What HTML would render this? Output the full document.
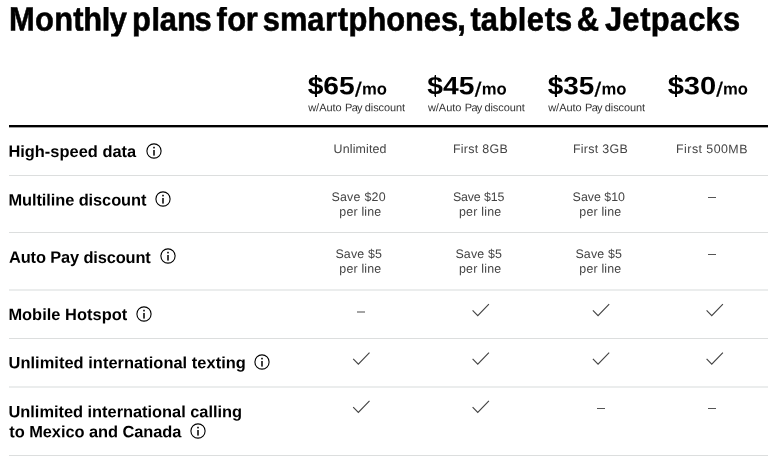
<!DOCTYPE html>
<html><head><meta charset="utf-8"><title>Monthly plans</title>
<style>
html,body{margin:0;padding:0;background:#fff;}
body{width:768px;height:468px;overflow:hidden;position:relative;font-family:"Liberation Sans",sans-serif;color:#000;}
.t{position:absolute;left:0;top:0;white-space:nowrap;margin:0;transform-origin:0 0;line-height:0;font-weight:normal;}
svg{position:absolute;overflow:visible;font-family:"Liberation Sans",sans-serif;}
svg.ov{left:0;top:0;width:768px;height:468px;pointer-events:none;}
h1{position:absolute;left:0;top:0;margin:0;width:768px;height:40px;font-size:32px;line-height:0;clip-path:inset(7.1px 0 3.6px 0);}
.h{font-weight:bold;font-size:32px;stroke:#000;stroke-width:0.55px;}
.num{font-weight:bold;font-size:25.2px;}
.sl{font-weight:normal;font-size:20.4px;stroke:#000;stroke-width:0.25px;}
.mo{font-weight:bold;font-size:16.6px;}
.sub{font-size:11px;fill:#333;}
.hl{position:absolute;left:9px;right:0;height:1px;background:#dcdede;}
.lab{font-weight:bold;font-size:16.4px;}
.c{font-size:12.4px;color:#444;}
.dash{position:absolute;width:8px;height:1px;background:#555;}
.bar{position:absolute;top:75.2px;width:1.9px;height:22.2px;background:#000;}
</style></head><body>
<h1><svg class="ov" style="height:40px"><text class="h" transform="translate(0,30.60) scale(0.9650,1.0500) rotate(0.03)" x="9.23 36.15 56.19 75.96 86.23 105.41 113.81 131.50 136.76 156.96 165.43 183.47 201.65 218.24 224.48 235.63 254.78 266.94 272.28 290.09 318.44 336.90 350.02 361.11 380.79 400.29 419.66 439.19 457.12 473.93 481.14 487.49 498.28 516.76 536.57 545.79 564.51 575.13 591.71 597.58 620.00 627.02 644.94 663.50 674.45 694.32 713.11 731.14 749.30" y="-0.00 -0.02 -0.03 -0.04 -0.05 -0.06 -0.06 0.00 -0.07 -0.08 -0.09 -0.10 -0.11 0.00 -0.12 -0.12 -0.13 0.00 -0.14 -0.15 -0.17 -0.18 -0.18 -0.19 -0.20 -0.21 -0.22 -0.23 -0.24 -0.25 0.00 -0.26 -0.26 -0.27 -0.28 -0.29 -0.30 -0.30 0.00 -0.31 0.00 -0.33 -0.34 -0.35 -0.35 -0.36 -0.37 -0.38 -0.39">Monthly plans for smartphones, tablets &amp; Jetpacks</text></svg></h1>
<svg class="ov"><text transform="translate(0,94.35) rotate(0.03)"><tspan class="num" x="307.68" y="-0.16" textLength="47.07" lengthAdjust="spacingAndGlyphs">$65</tspan><tspan class="sl" x="355.05" y="1.91" textLength="6.61" lengthAdjust="spacingAndGlyphs">/</tspan><tspan class="mo" x="362.07" y="-0.04" textLength="24.98" lengthAdjust="spacingAndGlyphs">mo</tspan></text></svg><div class="bar" style="left:314.80px"></div>
<svg class="ov"><text transform="translate(0,94.35) rotate(0.03)"><tspan class="num" x="427.38" y="-0.22" textLength="47.12" lengthAdjust="spacingAndGlyphs">$45</tspan><tspan class="sl" x="474.75" y="1.85" textLength="6.61" lengthAdjust="spacingAndGlyphs">/</tspan><tspan class="mo" x="481.77" y="-0.10" textLength="24.98" lengthAdjust="spacingAndGlyphs">mo</tspan></text></svg><div class="bar" style="left:434.50px"></div>
<svg class="ov"><text transform="translate(0,94.35) rotate(0.03)"><tspan class="num" x="547.68" y="-0.29" textLength="46.56" lengthAdjust="spacingAndGlyphs">$35</tspan><tspan class="sl" x="594.55" y="1.79" textLength="6.61" lengthAdjust="spacingAndGlyphs">/</tspan><tspan class="mo" x="601.47" y="-0.16" textLength="24.98" lengthAdjust="spacingAndGlyphs">mo</tspan></text></svg><div class="bar" style="left:554.80px"></div>
<svg class="ov"><text transform="translate(0,94.35) rotate(0.03)"><tspan class="num" x="667.67" y="-0.35" textLength="48.54" lengthAdjust="spacingAndGlyphs">$30</tspan><tspan class="sl" x="716.25" y="1.72" textLength="6.61" lengthAdjust="spacingAndGlyphs">/</tspan><tspan class="mo" x="722.97" y="-0.23" textLength="24.98" lengthAdjust="spacingAndGlyphs">mo</tspan></text></svg><div class="bar" style="left:674.80px"></div>
<svg class="ov"><text class="sub" transform="translate(0,111.20) rotate(0.03)"><tspan x="308.20" y="-0.16" letter-spacing="-0.025">w/Auto</tspan> <tspan x="345.12" y="-0.18" letter-spacing="-0.750">Pay</tspan> <tspan x="364.80" y="-0.19" letter-spacing="-0.096">discount</tspan></text></svg>
<svg class="ov"><text class="sub" transform="translate(0,111.20) rotate(0.03)"><tspan x="427.90" y="-0.22" letter-spacing="-0.025">w/Auto</tspan> <tspan x="464.82" y="-0.24" letter-spacing="-0.750">Pay</tspan> <tspan x="484.50" y="-0.25" letter-spacing="-0.096">discount</tspan></text></svg>
<svg class="ov"><text class="sub" transform="translate(0,111.20) rotate(0.03)"><tspan x="548.20" y="-0.29" letter-spacing="-0.025">w/Auto</tspan> <tspan x="585.12" y="-0.31" letter-spacing="-0.750">Pay</tspan> <tspan x="604.80" y="-0.32" letter-spacing="-0.096">discount</tspan></text></svg>
<div class="hl" style="top:125px;height:2px;background:#000"></div>
<div class="hl" style="top:127px;height:1px;background:#a0a0a0"></div>
<div class="hl" style="top:175px"></div>
<div class="hl" style="top:232px"></div>
<div class="hl" style="top:338px"></div>
<div class="hl" style="top:455px"></div>
<div class="hl" style="top:289px;height:2px;background:#ebeded"></div>
<div class="hl" style="top:386px;height:2px;background:#ebeded"></div>
<div class="t lab" style="transform:translate(8.38px,156.55px) rotate(0.05deg) translateY(-5.68px);letter-spacing:0.018px;">High-speed data</div>
<div class="t lab" style="transform:translate(8.38px,205.15px) rotate(0.05deg) translateY(-5.68px);letter-spacing:-0.074px;">Multiline discount</div>
<div class="t lab" style="transform:translate(9.00px,262.50px) rotate(0.05deg) translateY(-5.68px);letter-spacing:-0.134px;">Auto Pay discount</div>
<div class="t lab" style="transform:translate(8.38px,319.65px) rotate(0.05deg) translateY(-5.68px);letter-spacing:0.038px;">Mobile Hotspot</div>
<div class="t lab" style="transform:translate(8.50px,367.85px) rotate(0.05deg) translateY(-5.68px);letter-spacing:0.050px;">Unlimited international texting</div>
<div class="t lab" style="transform:translate(8.50px,416.85px) rotate(0.05deg) translateY(-5.68px);letter-spacing:-0.017px;">Unlimited international calling</div>
<div class="t lab" style="transform:translate(9.25px,436.85px) rotate(0.05deg) translateY(-5.68px);letter-spacing:-0.046px;">to Mexico and Canada</div>
<svg style="left:145.60px;top:142.90px" width="16" height="16" viewBox="0 0 16 16"><circle cx="8" cy="8" r="7.1" fill="none" stroke="#000" stroke-width="1.1"/><rect x="7.25" y="7.0" width="1.5" height="5.6" fill="#000"/><rect x="7.2" y="3.8" width="1.6" height="1.6" fill="#000"/></svg>
<svg style="left:155.30px;top:191.30px" width="16" height="16" viewBox="0 0 16 16"><circle cx="8" cy="8" r="7.1" fill="none" stroke="#000" stroke-width="1.1"/><rect x="7.25" y="7.0" width="1.5" height="5.6" fill="#000"/><rect x="7.2" y="3.8" width="1.6" height="1.6" fill="#000"/></svg>
<svg style="left:159.55px;top:248.40px" width="16" height="16" viewBox="0 0 16 16"><circle cx="8" cy="8" r="7.1" fill="none" stroke="#000" stroke-width="1.1"/><rect x="7.25" y="7.0" width="1.5" height="5.6" fill="#000"/><rect x="7.2" y="3.8" width="1.6" height="1.6" fill="#000"/></svg>
<svg style="left:135.90px;top:305.60px" width="16" height="16" viewBox="0 0 16 16"><circle cx="8" cy="8" r="7.1" fill="none" stroke="#000" stroke-width="1.1"/><rect x="7.25" y="7.0" width="1.5" height="5.6" fill="#000"/><rect x="7.2" y="3.8" width="1.6" height="1.6" fill="#000"/></svg>
<svg style="left:254.40px;top:354.30px" width="16" height="16" viewBox="0 0 16 16"><circle cx="8" cy="8" r="7.1" fill="none" stroke="#000" stroke-width="1.1"/><rect x="7.25" y="7.0" width="1.5" height="5.6" fill="#000"/><rect x="7.2" y="3.8" width="1.6" height="1.6" fill="#000"/></svg>
<svg style="left:190.40px;top:422.90px" width="16" height="16" viewBox="0 0 16 16"><circle cx="8" cy="8" r="7.1" fill="none" stroke="#000" stroke-width="1.1"/><rect x="7.25" y="7.0" width="1.5" height="5.6" fill="#000"/><rect x="7.2" y="3.8" width="1.6" height="1.6" fill="#000"/></svg>
<div class="t c" style="transform:translate(333.60px,153.38px) rotate(0.05deg) translateY(-4.30px);letter-spacing:0.159px;">Unlimited</div>
<div class="t c" style="transform:translate(452.90px,153.38px) rotate(0.05deg) translateY(-4.30px);letter-spacing:0.309px;">First 8GB</div>
<div class="t c" style="transform:translate(572.90px,153.38px) rotate(0.05deg) translateY(-4.30px);letter-spacing:0.309px;">First 3GB</div>
<div class="t c" style="transform:translate(676.10px,153.38px) rotate(0.05deg) translateY(-4.30px);letter-spacing:0.452px;">First 500MB</div>
<div class="t c" style="transform:translate(331.38px,201.38px) rotate(0.05deg) translateY(-4.30px);letter-spacing:0.264px;">Save $20</div>
<div class="t c" style="transform:translate(339.35px,216.03px) rotate(0.05deg) translateY(-4.30px);letter-spacing:0.182px;">per line</div>
<div class="t c" style="transform:translate(452.88px,201.38px) rotate(0.05deg) translateY(-4.30px);letter-spacing:-0.121px;">Save $15</div>
<div class="t c" style="transform:translate(459.00px,216.03px) rotate(0.05deg) translateY(-4.30px);letter-spacing:0.232px;">per line</div>
<div class="t c" style="transform:translate(572.62px,201.38px) rotate(0.05deg) translateY(-4.30px);letter-spacing:0.000px;">Save $10</div>
<div class="t c" style="transform:translate(579.35px,216.03px) rotate(0.05deg) translateY(-4.30px);letter-spacing:0.182px;">per line</div>
<div class="t c" style="transform:translate(335.38px,258.38px) rotate(0.05deg) translateY(-4.30px);letter-spacing:0.192px;">Save $5</div>
<div class="t c" style="transform:translate(339.35px,273.02px) rotate(0.05deg) translateY(-4.30px);letter-spacing:0.182px;">per line</div>
<div class="t c" style="transform:translate(455.38px,258.38px) rotate(0.05deg) translateY(-4.30px);letter-spacing:0.192px;">Save $5</div>
<div class="t c" style="transform:translate(459.00px,273.02px) rotate(0.05deg) translateY(-4.30px);letter-spacing:0.232px;">per line</div>
<div class="t c" style="transform:translate(575.38px,258.38px) rotate(0.05deg) translateY(-4.30px);letter-spacing:0.192px;">Save $5</div>
<div class="t c" style="transform:translate(579.35px,273.02px) rotate(0.05deg) translateY(-4.30px);letter-spacing:0.182px;">per line</div>
<div class="dash" style="left:707.90px;top:197px"></div>
<div class="dash" style="left:707.90px;top:254px"></div>
<div class="dash" style="left:596.50px;top:408px"></div>
<div class="dash" style="left:707.90px;top:408px"></div>
<div class="dash" style="left:356.5px;top:311px;height:2px;background:#a4a4a4"></div>
<svg class="ov"><path d="M472.60 310.40 L477.75 315.60 L488.90 304.10" fill="none" stroke="#444" stroke-width="1.15"/></svg>
<svg class="ov"><path d="M592.90 310.40 L598.05 315.60 L609.20 304.10" fill="none" stroke="#444" stroke-width="1.15"/></svg>
<svg class="ov"><path d="M706.60 310.40 L711.75 315.60 L722.90 304.10" fill="none" stroke="#444" stroke-width="1.15"/></svg>
<svg class="ov"><path d="M353.20 358.90 L358.35 364.10 L369.50 352.60" fill="none" stroke="#444" stroke-width="1.15"/></svg>
<svg class="ov"><path d="M472.60 358.90 L477.75 364.10 L488.90 352.60" fill="none" stroke="#444" stroke-width="1.15"/></svg>
<svg class="ov"><path d="M592.90 358.90 L598.05 364.10 L609.20 352.60" fill="none" stroke="#444" stroke-width="1.15"/></svg>
<svg class="ov"><path d="M706.60 358.90 L711.75 364.10 L722.90 352.60" fill="none" stroke="#444" stroke-width="1.15"/></svg>
<svg class="ov"><path d="M353.20 407.20 L358.35 412.40 L369.50 400.90" fill="none" stroke="#444" stroke-width="1.15"/></svg>
<svg class="ov"><path d="M472.60 407.20 L477.75 412.40 L488.90 400.90" fill="none" stroke="#444" stroke-width="1.15"/></svg>
</body></html>
